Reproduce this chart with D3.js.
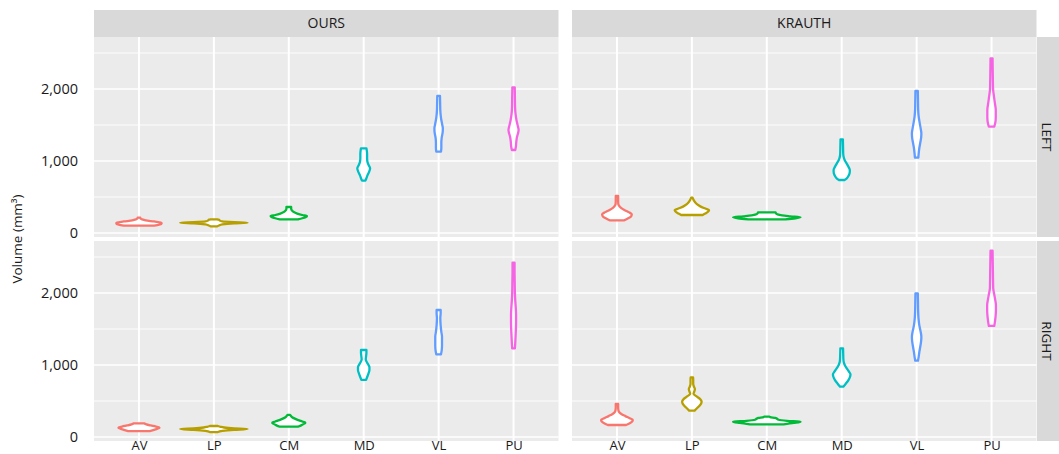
<!DOCTYPE html>
<html><head><meta charset="utf-8">
<script src="https://cdn.jsdelivr.net/npm/d3@7"></script>
<style>body{margin:0;background:#fff}svg{display:block}text{font-family:"Open Sans",sans-serif}</style>
</head><body><svg id="c" width="1059" height="454"></svg>
<script>
const categories = ["AV","LP","CM","MD","VL","PU"];
const methods = ["OURS","KRAUTH"];
const sides = ["LEFT","RIGHT"];
const majorTicks = [0,1000,2000];
const minorTicks = [500,1500,2500];
const colors = ["#F8766D","#B79F00","#00BA38","#00BFC4","#619CFF","#F564E3"];

// violin outlines: [volume, relative half-width] per category (AV..PU)
const oursLeft = [
  [[102,0.45],[115,0.6],[130,0.67],[143,0.67],[160,0.45],[175,0.2],[190,0.09],[200,0.05],[213,0.04]],
  [[93,0.1],[105,0.15],[120,0.25],[135,0.6],[143,1.0],[150,0.6],[160,0.25],[175,0.17],[185,0.14],[190,0.1]],
  [[190,0.27],[205,0.4],[220,0.5],[236,0.54],[250,0.4],[270,0.25],[290,0.15],[310,0.1],[320,0.08],[345,0.07],[361,0.07]],
  [[727,0.05],[760,0.08],[800,0.11],[850,0.16],[898,0.19],[940,0.15],[990,0.11],[1040,0.1],[1100,0.1],[1150,0.09],[1176,0.08]],
  [[1130,0.07],[1180,0.08],[1250,0.08],[1320,0.09],[1400,0.12],[1454,0.125],[1520,0.1],[1600,0.07],[1700,0.05],[1800,0.045],[1903,0.04]],
  [[1153,0.05],[1200,0.07],[1260,0.08],[1330,0.1],[1400,0.14],[1430,0.15],[1480,0.13],[1560,0.09],[1650,0.06],[1750,0.045],[1900,0.04],[2023,0.035]]
];
const krauthLeft = [
  [[176,0.22],[200,0.32],[230,0.42],[259,0.44],[290,0.35],[320,0.22],[350,0.12],[380,0.06],[400,0.04],[450,0.035],[514,0.035]],
  [[250,0.32],[270,0.4],[295,0.48],[319,0.51],[340,0.4],[370,0.25],[400,0.15],[430,0.09],[460,0.05],[491,0.02]],
  [[190,0.55],[205,0.85],[218,1.0],[232,0.7],[245,0.45],[258,0.32],[270,0.28],[287,0.26]],
  [[736,0.08],[760,0.15],[800,0.21],[850,0.24],[875,0.24],[920,0.2],[970,0.14],[1010,0.09],[1050,0.06],[1100,0.045],[1200,0.04],[1301,0.035]],
  [[1046,0.05],[1100,0.06],[1180,0.08],[1260,0.11],[1330,0.135],[1384,0.14],[1450,0.12],[1530,0.09],[1620,0.06],[1720,0.045],[1850,0.04],[1972,0.035]],
  [[1477,0.08],[1510,0.1],[1560,0.12],[1620,0.125],[1708,0.125],[1800,0.1],[1900,0.07],[2000,0.045],[2100,0.04],[2250,0.035],[2426,0.03]]
];
const oursRight = [
  [[83,0.32],[100,0.45],[115,0.55],[130,0.61],[145,0.5],[160,0.35],[175,0.22],[190,0.15]],
  [[69,0.12],[85,0.25],[100,0.6],[111,1.0],[120,0.6],[132,0.3],[142,0.2],[153,0.12]],
  [[143,0.27],[165,0.38],[185,0.46],[199,0.49],[215,0.4],[235,0.28],[255,0.18],[275,0.1],[295,0.06],[306,0.04]],
  [[792,0.07],[830,0.1],[880,0.14],[930,0.17],[968,0.17],[1010,0.13],[1050,0.08],[1080,0.06],[1120,0.07],[1170,0.08],[1208,0.08]],
  [[1148,0.07],[1200,0.09],[1270,0.1],[1340,0.1],[1393,0.1],[1460,0.08],[1550,0.06],[1650,0.05],[1720,0.06],[1764,0.06]],
  [[1231,0.04],[1300,0.05],[1400,0.06],[1500,0.07],[1600,0.075],[1700,0.075],[1800,0.065],[1900,0.05],[2000,0.04],[2150,0.035],[2300,0.03],[2421,0.03]]
];
const krauthRight = [
  [[167,0.27],[190,0.38],[215,0.45],[236,0.47],[260,0.38],[290,0.25],[320,0.13],[350,0.06],[380,0.04],[420,0.035],[458,0.035]],
  [[366,0.08],[400,0.15],[440,0.24],[490,0.29],[530,0.24],[570,0.12],[600,0.05],[630,0.07],[665,0.09],[700,0.06],[740,0.04],[790,0.04],[829,0.035]],
  [[176,0.5],[195,0.8],[213,1.0],[225,0.6],[240,0.35],[255,0.3],[265,0.25],[275,0.1],[282,0.08]],
  [[699,0.05],[740,0.12],[790,0.2],[840,0.25],[870,0.26],[910,0.21],[960,0.14],[1000,0.09],[1040,0.06],[1080,0.05],[1150,0.045],[1231,0.04]],
  [[1060,0.04],[1110,0.06],[1180,0.08],[1260,0.11],[1340,0.135],[1393,0.14],[1460,0.12],[1550,0.08],[1650,0.055],[1750,0.045],[1870,0.04],[1995,0.035]],
  [[1542,0.08],[1600,0.1],[1680,0.12],[1760,0.13],[1833,0.13],[1900,0.11],[1980,0.08],[2060,0.05],[2150,0.045],[2300,0.04],[2450,0.035],[2588,0.03]]
];
const facetData = {OURS:{LEFT:oursLeft,RIGHT:oursRight},KRAUTH:{LEFT:krauthLeft,RIGHT:krauthRight}};

const svg = d3.select("#c");
const colX = [[94,558.5],[572,1036.5]];
const rowY = [[37,237],[241,441]];
const stripTop = 10, stripRightEnd = 1059;
const yDomain = [-55.5, 2722];

svg.append("text").attr("transform","translate(22,239) rotate(-90)")
  .attr("text-anchor","middle").attr("font-size",13.5).attr("fill","#1a1a1a")
  .text("Volume (mm³)");

methods.forEach((m,ci)=>{
  const [x0,x1] = colX[ci];
  const x = d3.scalePoint().domain(categories).range([x0,x1]).padding(0.6);
  const hw = d3.scaleLinear().domain([0,1]).range([0, x.step()*0.45]);
  svg.append("rect").attr("x",x0).attr("y",stripTop).attr("width",x1-x0).attr("height",rowY[0][0]-stripTop).attr("fill","#D9D9D9");
  svg.append("text").attr("x",(x0+x1)/2).attr("y",(stripTop+rowY[0][0])/2).attr("dy","0.35em")
    .attr("text-anchor","middle").attr("font-size",14).attr("fill","#1a1a1a").text(m);
  sides.forEach((s,ri)=>{
    const [y0,y1] = rowY[ri];
    const y = d3.scaleLinear().domain(yDomain).range([y1,y0]);
    const g = svg.append("g");
    g.append("rect").attr("x",x0).attr("y",y0).attr("width",x1-x0).attr("height",y1-y0).attr("fill","#EBEBEB");
    g.selectAll(".mn").data(minorTicks).join("line").attr("x1",x0).attr("x2",x1)
      .attr("y1",d=>y(d)).attr("y2",d=>y(d)).attr("stroke","#fff").attr("stroke-width",0.9);
    g.selectAll(".mj").data(majorTicks).join("line").attr("x1",x0).attr("x2",x1)
      .attr("y1",d=>y(d)).attr("y2",d=>y(d)).attr("stroke","#fff").attr("stroke-width",1.6);
    g.selectAll(".vx").data(categories).join("line").attr("x1",d=>x(d)).attr("x2",d=>x(d))
      .attr("y1",y0).attr("y2",y1).attr("stroke","#fff").attr("stroke-width",2);
    const profiles = facetData[m][s];
    profiles.forEach((p,k)=>{
      const cx = x(categories[k]);
      const area = d3.area().curve(d3.curveMonotoneY)
        .y(d=>y(d[0])).x0(d=>cx-hw(d[1])).x1(d=>cx+hw(d[1]));
      g.append("path").attr("d",area(p)).attr("fill","#fff").attr("stroke",colors[k])
        .attr("stroke-width",2.3).attr("stroke-linejoin","round");
    });
    if(ci===0){
      const ax = svg.append("g").attr("transform",`translate(${x0},0)`)
        .call(d3.axisLeft(y).tickValues(majorTicks).tickFormat(d3.format(",")).tickSize(0).tickPadding(16));
      ax.select(".domain").remove();
      ax.selectAll("text").attr("font-size",14.5).attr("fill","#1a1a1a").attr("font-family","Open Sans");
    }
    if(ri===1){
      const ax = svg.append("g").attr("transform",`translate(0,${y1})`)
        .call(d3.axisBottom(x).tickSize(0).tickPadding(0));
      ax.select(".domain").remove();
      ax.selectAll("text").attr("font-size",13).attr("dy","0.68em").attr("fill","#1a1a1a").attr("font-family","Open Sans");
    }
    if(ci===1){
      const sx = x1+0.5;
      svg.append("rect").attr("x",sx).attr("y",y0).attr("width",stripRightEnd-sx).attr("height",y1-y0).attr("fill","#D9D9D9");
      svg.append("text").attr("transform",`translate(${(sx+stripRightEnd)/2-1},${(y0+y1)/2}) rotate(90)`)
        .attr("dy","0.35em").attr("text-anchor","middle").attr("font-size",13.5).attr("fill","#1a1a1a").text(s);
    }
  });
});
</script></body></html>
